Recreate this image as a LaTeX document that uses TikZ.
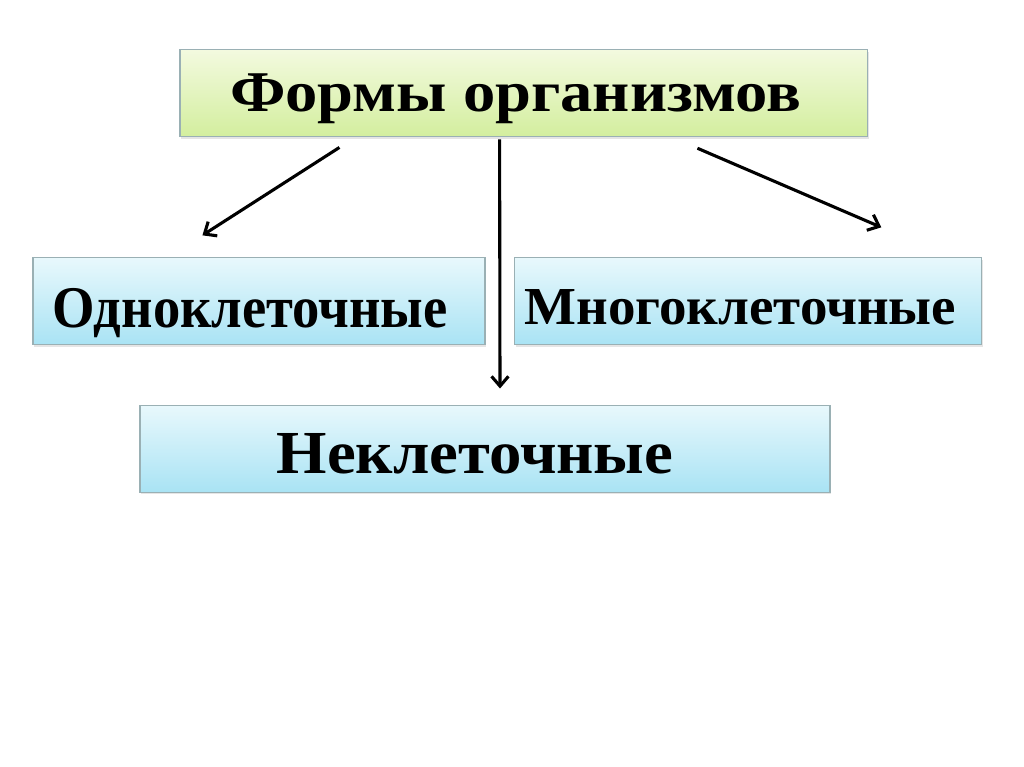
\documentclass[tikz,border=0pt]{standalone}
\usepackage{fontspec}
\setmainfont{Liberation Serif}
\usepackage{tikz}
\usetikzlibrary{positioning,arrows.meta,calc,shadows}

\definecolor{titletop}{HTML}{F3FADF}
\definecolor{titlebot}{HTML}{D3EE9E}
\definecolor{boxtop}{HTML}{E8F8FC}
\definecolor{boxbot}{HTML}{A9E3F4}
\definecolor{boxline}{HTML}{9AB0B4}

\newcommand{\boxfont}[2]{\fontsize{#1}{#1}\selectfont\bfseries\addfontfeatures{FakeStretch=#2}}

\begin{document}
\begin{tikzpicture}[
  head/.style  = {rectangle, draw=boxline, line width=0.8pt,
                  top color=titletop, bottom color=titlebot,
                  minimum width=17.18cm, minimum height=2.175cm,
                  inner sep=0pt, align=center, text depth=0pt,
                  drop shadow={opacity=0.2, shadow xshift=1pt, shadow yshift=-1.5pt}},
  kind/.style  = {rectangle, draw=boxline, line width=0.8pt,
                  top color=boxtop, bottom color=boxbot,
                  minimum height=2.175cm, inner sep=0pt, align=center,
                  text depth=0pt,
                  drop shadow={opacity=0.2, shadow xshift=1pt, shadow yshift=-1.5pt}},
  arr/.style   = {-{Straight Barb[length=7pt, width=12pt, line width=2.2pt]},
                  line width=2.2pt, black},
]
\useasboundingbox[fill=white] (0,0) rectangle (25.6,19.175);
\node[head, text height=0.925cm, font=\boxfont{41}{1.12}]
  (forms) at (13.09, 16.84) {Формы организмов\hspace*{0.4cm}};
\node[kind, minimum width=11.3cm, text height=1.325cm, font=\boxfont{42}{0.925}]
  (uni)   at ( 6.475, 11.64) {Одноклеточные\hspace*{0.45cm}};
\node[kind, minimum width=11.675cm, text height=1.175cm, font=\boxfont{38}{1.03}]
  (multi) at (18.71,  11.64) {Многоклеточные\hspace*{0.4cm}};
\node[kind, minimum width=17.25cm, text height=1.225cm, font=\boxfont{43.5}{1.06}]
  (non)   at (12.125,  7.96) {Неклеточные\hspace*{0.5cm}};
% arrow ends
\coordinate (lsrc) at ($(forms.south west)+(4.0,-0.25)$);
\coordinate (ldst) at ($(uni.north west)+(4.25,0.55)$);
\coordinate (msrc) at ($(forms.south)+(-0.6,-0.05)$);
\coordinate (mdst) at ($(non.north)+(0.375,0.4)$);
\coordinate (rsrc) at ($(forms.south west)+(12.95,-0.27)$);
\coordinate (rdst) at ($(multi.north west)+(9.175,0.75)$);
% arrows
\draw[arr] (lsrc) -- (ldst);
\draw[arr] (msrc) -- (mdst);
\draw[arr] (rsrc) -- (rdst);
\end{tikzpicture}
\end{document}
